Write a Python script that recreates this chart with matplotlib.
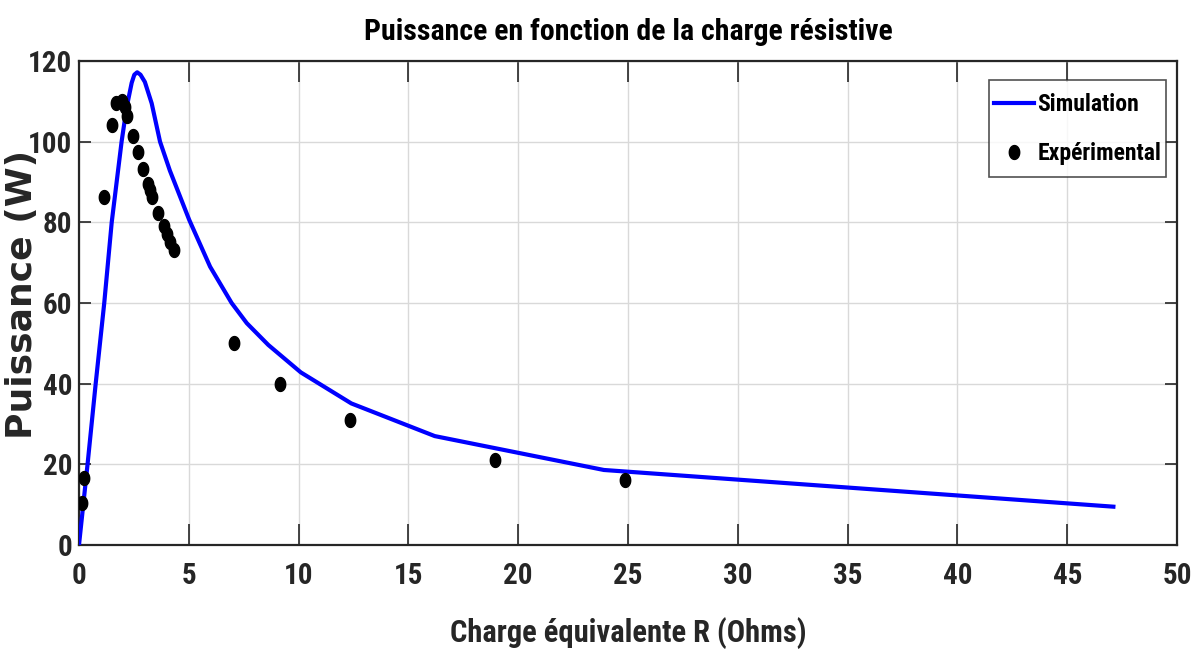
import numpy as np
import matplotlib
matplotlib.use("Agg")
import matplotlib.pyplot as plt
from matplotlib.path import Path
from matplotlib import font_manager as fm

# Data
sim_R = [0, 0.39, 0.76, 1.15, 1.49, 1.94, 2.17, 2.4, 2.52, 2.65, 2.8, 3.0, 3.31, 3.69, 4.14,
         5.02, 5.97, 6.95, 7.64, 8.62, 10.1, 12.4, 16.2, 23.9, 47.1]
sim_P = [0, 20, 40, 60, 80, 100, 108.5, 114.6, 116.6, 117.2, 116.6, 114.8, 109.5, 100, 92.8,
         80.6, 69, 60, 55, 49.6, 42.8, 35.1, 27, 18.6, 9.5]

exp_R = [0.14, 0.23, 1.15, 1.49, 1.67, 1.97, 2.09, 2.2, 2.47, 2.7, 2.93, 3.12, 3.22,
         3.31, 3.61, 3.87, 4.02, 4.14, 4.32, 7.06, 9.15, 12.34, 18.94, 24.86]
exp_P = [10.3, 16.7, 86.2, 104.1, 109.5, 110.2, 108.7, 106.4, 101.4, 97.5, 93.2, 89.6, 88.0,
         86.3, 82.4, 79.0, 77.0, 75.2, 73.2, 50.0, 40.0, 31.1, 21.0, 16.2]

title = "Puissance en fonction de la charge résistive"
xlabel = "Charge équivalente R (Ohms)"
ylabel = "Puissance (W)"
xticks = [0, 5, 10, 15, 20, 25, 30, 35, 40, 45, 50]
yticks = [0, 20, 40, 60, 80, 100, 120]

avail = {f.name for f in fm.fontManager.ttflist}
narrow = [f for f in ["Liberation Sans Narrow", "DejaVu Sans Condensed", "Roboto Condensed", "Liberation Sans"] if f in avail]
narrow = narrow + ["DejaVu Sans"]

fig = plt.figure(figsize=(11.95, 6.53), dpi=100)
ax = fig.add_axes([0.0661, 0.1654, 0.9189, 0.7412])

# ellipse-ish marker (slightly taller than wide)
t = np.linspace(0, 2 * np.pi, 40)
verts = np.column_stack([0.75 * np.cos(t), np.sin(t)])
ell = Path(verts, closed=True)

ax.plot(sim_R, sim_P, color=(0, 0, 1), lw=3.0, label="Simulation", zorder=3,
        solid_joinstyle="round")
ax.plot(exp_R, exp_P, linestyle="none", marker=ell, markersize=10, color="black",
        label="Expérimental", zorder=4)

ax.set_xlim(0, 50)
ax.set_ylim(0, 120)
ax.set_xticks(xticks)
ax.set_yticks(yticks)
ax.grid(True, color="#d9d9d9", lw=1.0)
ax.set_axisbelow(True)

for s in ax.spines.values():
    s.set_color("#262626")
    s.set_linewidth(1.6)

ax.tick_params(axis="x", direction="in", length=15, width=1.2, color="#262626",
               top=True, bottom=True, pad=12)
ax.tick_params(axis="y", direction="in", length=8.5, width=1.2, color="#262626",
               left=True, right=True, pad=5)
for lab in ax.get_xticklabels() + ax.get_yticklabels():
    lab.set_fontfamily(narrow)
    lab.set_fontweight("bold")
    lab.set_fontsize(21)
    lab.set_color("#262626")

ax.set_title(title, fontsize=21.5, fontweight="bold", family=narrow, color="black", pad=15)
ax.set_xlabel(xlabel, fontsize=22, fontweight="bold", family=narrow, color="#262626", labelpad=20)
ax.set_ylabel(ylabel, fontsize=26, fontweight="bold", family=["DejaVu Sans"], color="#262626",
              va="center")
ax.yaxis.set_label_coords((22 - 79) / 1098, 0.517)

leg = ax.legend(loc="upper right", bbox_to_anchor=(0.99, 0.944),
                prop={"family": narrow, "weight": "bold", "size": 17},
                frameon=True, fancybox=False, edgecolor="#262626", handlelength=1.7,
                handletextpad=0.15, borderpad=0.2, labelspacing=1.1, borderaxespad=0.0)


def tall_box(x0, y0, width, height, mutation_size):
    pady = 0.33 * mutation_size
    xs = [x0, x0 + width, x0 + width, x0, x0]
    ys = [y0 - pady, y0 - pady, y0 + height + pady, y0 + height + pady, y0 - pady]
    return Path(np.column_stack([xs, ys]), closed=True)


leg.get_frame().set_boxstyle(tall_box)
leg.get_frame().set_linewidth(1.2)

fig.savefig("out.png", dpi=100)
